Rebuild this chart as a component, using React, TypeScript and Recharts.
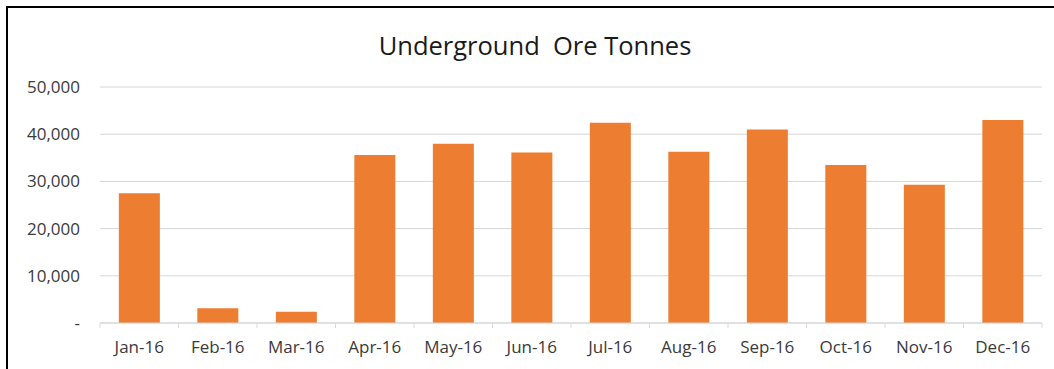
import React from 'react';
import { BarChart, Bar, XAxis, YAxis, CartesianGrid } from 'recharts';

const months = ['Jan-16', 'Feb-16', 'Mar-16', 'Apr-16', 'May-16', 'Jun-16', 'Jul-16', 'Aug-16', 'Sep-16', 'Oct-16', 'Nov-16', 'Dec-16'];
const tonnes = [27500, 3100, 2400, 35600, 38000, 36100, 42400, 36300, 41000, 33500, 29300, 43000];
const yTicks = [0, 10000, 20000, 30000, 40000, 50000];
const title = 'Underground  Ore Tonnes';

const data = months.map((m, i) => ({ month: m, value: tonnes[i] }));

const FONT = '"Open Sans", sans-serif';
const X_MARGIN = 18;

const fmt = (v: number) => (v === 0 ? '-' : v.toLocaleString('en-US'));

const XTick = (props: any) => {
  const { x, y, payload, index } = props;
  const off = payload && payload.offset ? payload.offset : 39;
  const axisY = y - X_MARGIN;
  return (
    <g>
      <line x1={x - off} x2={x - off} y1={axisY} y2={axisY + 5} stroke="#d9d9d9" />
      {index === months.length - 1 && (
        <line x1={x + off} x2={x + off} y1={axisY} y2={axisY + 5} stroke="#d9d9d9" />
      )}
      <text x={x} y={y} dy="0.71em" textAnchor="middle" fill="#3a3a3a" fontSize={17} fontFamily={FONT}>
        {payload.value}
      </text>
    </g>
  );
};

export default function App() {
  return (
    <div
      style={{
        position: 'absolute',
        left: 6,
        top: 6,
        width: 1046,
        height: 361,
        overflow: 'hidden',
        borderTop: '2px solid #000',
        borderLeft: '2px solid #000',
        background: '#fff',
      }}
    >
      <div
        style={{
          position: 'absolute',
          left: 527,
          top: 25,
          transform: 'translateX(-50%)',
          whiteSpace: 'pre',
          fontFamily: FONT,
          fontSize: 25.5,
          lineHeight: '25px',
          color: '#1a1a1a',
        }}
      >
        {title}
      </div>
      <BarChart
        width={1046}
        height={361}
        data={data}
        margin={{ top: 79, right: 12, left: 0, bottom: 0 }}
        barCategoryGap="24%"
      >
        <CartesianGrid horizontal vertical={false} stroke="#d6d6d6" />
        <XAxis
          dataKey="month"
          height={46}
          axisLine={{ stroke: '#d6d6d6' }}
          tickLine={false}
          tickSize={0}
          tickMargin={X_MARGIN}
          tick={<XTick />}
          interval={0}
        />
        <YAxis
          width={92}
          domain={[0, 50000]}
          ticks={yTicks}
          tickFormatter={fmt}
          axisLine={false}
          tickLine={false}
          tickSize={0}
          tickMargin={20}
          tick={{ fill: '#3a3a3a', fontSize: 17, fontFamily: FONT }}
        />
        <Bar dataKey="value" fill="#ED7D31" isAnimationActive={false} />
      </BarChart>
    </div>
  );
}
